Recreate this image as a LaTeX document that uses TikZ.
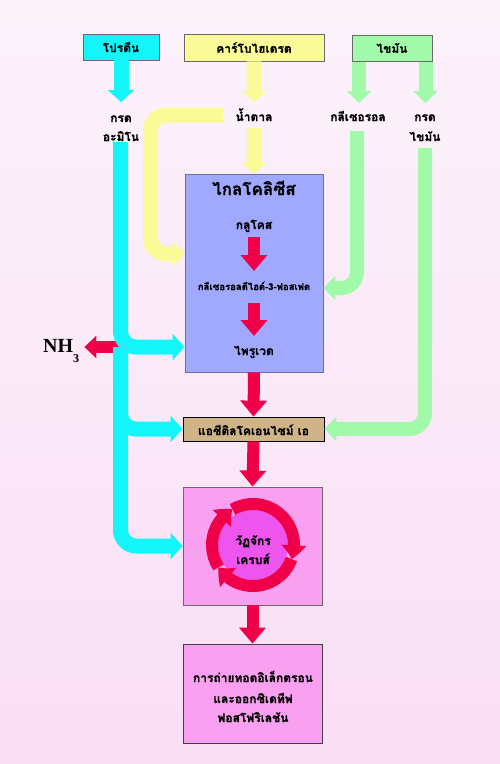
\documentclass[tikz,border=0pt]{standalone}
\usepackage{fontspec}
\setmainfont{Liberation Serif}
\newfontfamily\thai[Script=Thai,BoldFeatures={FakeBold=0.8}]{Loma}
\usetikzlibrary{arrows.meta,bending}
\definecolor{cyanc}{RGB}{20,245,250}
\definecolor{yelc}{RGB}{250,250,150}
\definecolor{grnc}{RGB}{160,250,170}
\definecolor{redc}{RGB}{240,0,72}
\definecolor{glyfill}{RGB}{160,168,255}
\definecolor{tanc}{RGB}{208,180,135}
\definecolor{pinkc}{RGB}{250,160,240}
\definecolor{magc}{RGB}{238,85,238}
\definecolor{bgt}{RGB}{252,243,251}
\definecolor{bgb}{RGB}{249,222,244}
\definecolor{edgec}{RGB}{105,105,105}
\begin{document}
\begin{tikzpicture}[x=1pt,y=-1pt,
  box/.style={draw=edgec, line width=0.8pt, inner sep=0pt, font=\thai\bfseries\fontsize{12}{14}\selectfont},
  lbl/.style={anchor=base, inner sep=0pt, font=\thai\bfseries\fontsize{12}{14}\selectfont},
  fatc/.style={draw=cyanc, line width=15pt, rounded corners=16pt, -{Triangle[width=26pt,length=12pt]}},
  faty/.style={draw=yelc, line width=15pt, rounded corners=16pt, -{Triangle[width=24pt,length=11pt]}},
  fatg/.style={draw=grnc, line width=14pt, rounded corners=16pt, -{Triangle[width=24pt,length=12pt]}},
  reda/.style={draw=redc, line width=12pt, -{Triangle[width=26pt,length=16pt]}},
  redn/.style={draw=redc, line width=12pt, -{Triangle[width=22pt,length=12pt]}},
  ring/.style={draw=redc, line width=12pt, -{Triangle[width=24pt,length=14pt,bend]}}
]
\useasboundingbox (0,0) rectangle (500,764);
\shade[top color=bgt,bottom color=bgb] (0,0) rectangle (500,764);

% boxes
\node[box, fill=cyanc, minimum width=76pt, minimum height=26pt] (prot) at (121,47) {โปรตีน};
\node[box, fill=yelc, minimum width=140pt, minimum height=27pt] (carb) at (254,47.5) {คาร์โบไฮเดรต};
\node[box, fill=glyfill, draw={rgb,255:red,110;green,110;blue,150}, minimum width=138pt, minimum height=198pt] (glyc) at (254,273) {};
\node[box, fill=tanc, draw=black, minimum width=141pt, minimum height=24pt] (acet) at (253.5,429) {};
\node[box, fill=pinkc, minimum width=139pt, minimum height=118pt] (krebs) at (252.5,546) {};
\node[box, fill=pinkc, draw=black!75, minimum width=139pt, minimum height=99pt] (etc) at (252.5,693.5) {};

% green legs under fat box
\coordinate (glT) at (359,103);
\coordinate (grT) at (425.5,103);
\draw[fatg] (359,55) -- (glT);
\draw[fatg] (425.5,55) -- (grT);
\node[box, fill=grnc, minimum width=80pt, minimum height=26pt] (fat) at (392,48) {ไขมัน};

% labels
\node[lbl] (aa) at (121,122) {กรด};
\node[lbl] (aab) at (121,141) {อะมิโน};
\node[lbl] (sug) at (254,121) {น้ำตาล};
\node[lbl] (gly) at (358,121) {กลีเซอรอล};
\node[lbl] (fa) at (425,121) {กรด};
\node[lbl] (fab) at (425,141) {ไขมัน};

% glycolysis contents
\node[lbl, font=\thai\bfseries\fontsize{17}{19}\selectfont] (gtitle) at (254,195) {ไกลโคลิซีส};
\node[lbl] (glu) at (254,229) {กลูโคส};
\node[lbl, font=\thai\bfseries\fontsize{9.5}{11}\selectfont] (g3p) at (254,290) {กลีเซอรอลดีไฮด์-3-ฟอสเฟต};
\node[lbl] (pyr) at (254,355) {ไพรูเวต};
\node[lbl] (acett) at (253.5,435) {แอซีติลโคเอนไซม์ เอ};

% NH3
\node[anchor=base west, inner sep=0pt] (nh3) at (43,352) {\bfseries\fontsize{20}{20}\selectfont NH\raisebox{-10pt}{\fontsize{12}{12}\selectfont 3}};

% coordinates
\coordinate (aaT) at (121,102);
\coordinate (aaB) at (120.5,142);
\coordinate (jn) at (120.5,347);
\coordinate (sugT) at (254.5,102);
\coordinate (sugB) at (254.5,128);
\coordinate (hookS) at (223,115);
\coordinate (hk) at (150.5,254);
\coordinate (gB) at (357,131);
\coordinate (gk) at (357,288);
\coordinate (fB) at (425,148);
\coordinate (r1a) at (254,237);
\coordinate (r1b) at (254,271);
\coordinate (r2a) at (254,303);
\coordinate (r2b) at (254,336);

% red NH3 arrow
\draw[redn] (jn) -- ([xshift=5pt]nh3.east |- jn);

% cyan
\draw[fatc] (prot.south) -- (aaT);
\draw[fatc] (jn) |- (krebs.west);
\draw[fatc] (jn) |- (acet.west);
\draw[fatc] (aaB) -- (jn) -- (jn -| glyc.west);

% yellow
\draw[faty] (carb.south) -- (sugT);
\draw[faty] (sugB) -- (glyc.north);
\draw[faty] (hookS) -| (hk) -- (hk -| glyc.west);

% green
\draw[fatg] (gB) -- (gk) -- (gk -| glyc.east);
\draw[fatg] (fB) |- (acet.east);

% red
\draw[reda] (r1a) -- (r1b);
\draw[reda] (r2a) -- (r2b);
\draw[reda] (glyc.south) -- (acet.north);
\draw[reda] (acet.south) -- (krebs.north);
\draw[reda] (krebs.south) -- (etc.north);

% Krebs ring
\coordinate (kc) at (253,545);
\fill[magc] (kc) circle[radius=35];
\draw[ring] ([shift={(147:41)}]kc) arc[start angle=147, end angle=240, radius=41];
\draw[ring] ([shift={(240:41)}]kc) arc[start angle=240, end angle=380, radius=41];
\draw[ring] ([shift={(20:41)}]kc) arc[start angle=20, end angle=147, radius=41];
\node[lbl] (k1) at (253,545) {วัฏจักร};
\node[lbl] (k2) at (253,564) {เครบส์};

% ETC text
\node[lbl] (e1) at (253,682) {การถ่ายทอดอิเล็กตรอน};
\node[lbl] (e2) at (253,703) {และออกซิเดทีฟ};
\node[lbl] (e3) at (253,722) {ฟอสโฟริเลชัน};
\end{tikzpicture}
\end{document}
